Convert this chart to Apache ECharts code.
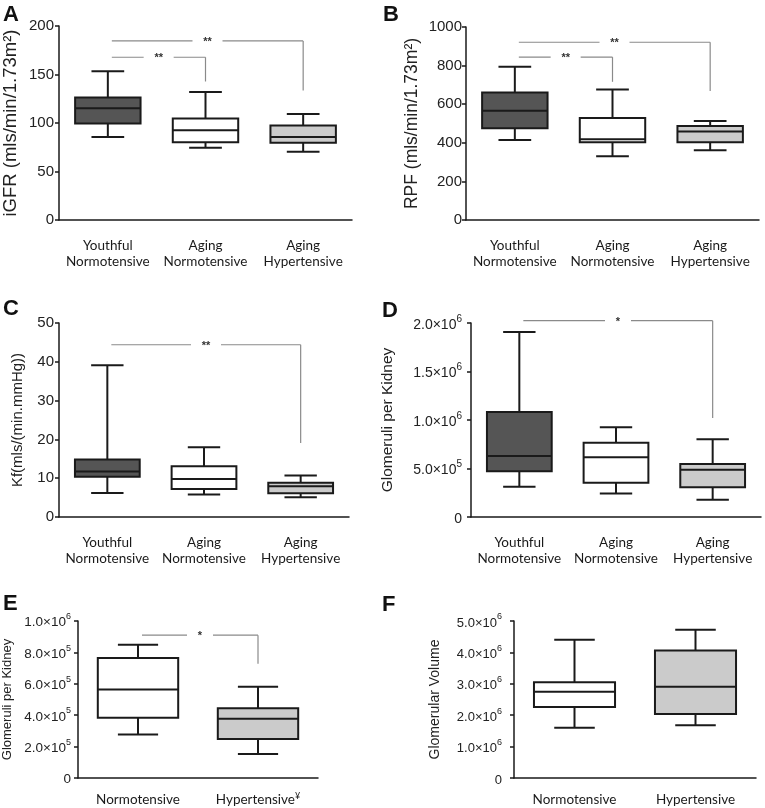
<!DOCTYPE html>
<html>
<head>
<meta charset="utf-8">
<script src="https://cdn.jsdelivr.net/npm/echarts@6/dist/echarts.min.js"></script>
<style>html,body{margin:0;padding:0;background:#fff;}#c{width:765px;height:808px;}</style>
</head>
<body>
<div id="c"></div>
<script>
// ---------- data ----------
const catsAging = ['Youthful\nNormotensive', 'Aging\nNormotensive', 'Aging\nHypertensive'];
const catsE = ['Normotensive', 'Hypertensive¥'];
const catsF = ['Normotensive', 'Hypertensive'];

// box stats: [min, q1, median, q3, max]
const iGFR = [[85.6, 99.5, 115.3, 126.2, 153.3], [74.4, 80.1, 92.6, 104.6, 131.9], [70.3, 79.6, 85.6, 97.4, 109.4]];
const RPF = [[415, 475, 566, 661, 794], [330, 403, 419, 529, 676], [362, 403, 458, 487, 513]];
const Kf = [[6.2, 10.4, 11.7, 14.8, 39.1], [5.8, 7.2, 9.8, 13.1, 18.0], [5.1, 6.1, 7.9, 8.8, 10.7]];
const glomD = [[313000, 471000, 629000, 1082000, 1907000], [241000, 354000, 615000, 766000, 924000], [179000, 306000, 488000, 546000, 801000]];
const glomE = [[277000, 384000, 564000, 765000, 849000], [153000, 249000, 377000, 444000, 581000]];
const volF = [[1600000, 2260000, 2750000, 3050000, 4400000], [1680000, 2040000, 2910000, 4060000, 4720000]];

// significance brackets: [fromCat, toCat, level, dropTo]
const brA = [[0, 2, 184.6, 133.6], [0, 1, 167.8, 142.8]];
const brAlab = ['**', '**'];
const brB = [[0, 2, 921, 669], [0, 1, 844, 716]];
const brBlab = ['**', '**'];
const brC = [[0, 2, 44.4, 19.1]];
const brClab = ['**'];
const brD = [[0, 2, 2024000, 1020000]];
const brDlab = ['*'];
const brE = [[0, 1, 910000, 727000]];
const brElab = ['*'];

// tick labels
const ticksA = ['0', '50', '100', '150', '200'];
const ticksB = ['0', '200', '400', '600', '800', '1000'];
const ticksC = ['0', '10', '20', '30', '40', '50'];
const ticksD = ['0', '5.0×10^5', '1.0×10^6', '1.5×10^6', '2.0×10^6'];
const ticksE = ['0', '2.0×10^5', '4.0×10^5', '6.0×10^5', '8.0×10^5', '1.0×10^6'];
const ticksF = ['0', '1.0×10^6', '2.0×10^6', '3.0×10^6', '4.0×10^6', '5.0×10^6'];

// ---------- styling ----------
const DARK = '#555555', WHITE = '#ffffff', LIGHT = '#cbcbcb';
const fillsAging = [DARK, WHITE, LIGHT];
const fillsEF = [WHITE, LIGHT];
const BOX_FRAC = 0.67;
const INK = '#1a1a1a';
const SANS = 'Liberation Sans, Arial, sans-serif';
const CATFONT = 'Lato, sans-serif';

function boxRender(fills) {
  return function (params, api) {
    const c = api.value(0);
    const ys = [1, 2, 3, 4, 5].map(d => api.coord([c, api.value(d)])[1]);
    const cx = api.coord([c, 0])[0];
    const band = api.size([1, 0])[0];
    const bw = band * BOX_FRAC, half = bw / 2, cap = bw / 4;
    const st = { stroke: INK, lineWidth: 2 };
    return {
      type: 'group', children: [
        { type: 'line', shape: { x1: cx, y1: ys[4], x2: cx, y2: ys[3] }, style: st },
        { type: 'line', shape: { x1: cx - cap, y1: ys[4], x2: cx + cap, y2: ys[4] }, style: st },
        { type: 'line', shape: { x1: cx, y1: ys[1], x2: cx, y2: ys[0] }, style: st },
        { type: 'line', shape: { x1: cx - cap, y1: ys[0], x2: cx + cap, y2: ys[0] }, style: st },
        { type: 'rect', shape: { x: cx - half, y: ys[3], width: bw, height: ys[1] - ys[3] }, style: { fill: fills[c], stroke: INK, lineWidth: 2 } },
        { type: 'line', shape: { x1: cx - half, y1: ys[2], x2: cx + half, y2: ys[2] }, style: st }
      ]
    };
  };
}

function bracketRender(labels) {
  return function (params, api) {
    const f = api.value(0), t = api.value(1), lv = api.value(2), dr = api.value(3);
    const p1 = api.coord([f, lv]), p2 = api.coord([t, lv]), p3 = api.coord([t, dr]);
    const x1 = p1[0] + 4, x2 = p2[0], y = p1[1];
    const lab = labels[params.dataIndex];
    const g = lab.length > 1 ? 15 : 13;
    const mid = (x1 + x2) / 2;
    const st = { stroke: '#8a8a8a', lineWidth: 1.2 };
    return {
      type: 'group', children: [
        { type: 'line', shape: { x1: x1, y1: y, x2: mid - g, y2: y }, style: st },
        { type: 'line', shape: { x1: mid + g, y1: y, x2: x2, y2: y }, style: st },
        { type: 'line', shape: { x1: x2, y1: y, x2: x2, y2: p3[1] }, style: st },
        { type: 'text', x: mid, y: y + 1, style: { text: lab, fill: '#333', font: 'bold 11px ' + SANS, align: 'center', verticalAlign: 'middle', textAlign: 'center', textVerticalAlign: 'middle' } }
      ]
    };
  };
}

const grids = [
  { left: 59, top: 26, width: 293, height: 194 },
  { left: 466, top: 27, width: 293, height: 193 },
  { left: 59, top: 323, width: 290, height: 194 },
  { left: 471, top: 323, width: 290, height: 194 },
  { left: 77, top: 621, width: 241, height: 159 },
  { left: 514, top: 621, width: 242, height: 159 }
];

function catFormatter(v) {
  if (v.slice(-1) === '¥') return v.slice(0, -1) + '{s|¥}';
  return v;
}

function xAx(i, cats, fs, margin) {
  return {
    type: 'category', gridIndex: i, data: cats, boundaryGap: true,
    axisLine: { lineStyle: { color: INK, width: 1.5 } },
    axisTick: { alignWithLabel: true, length: 5, lineStyle: { color: INK, width: 1.5 } },
    axisLabel: {
      interval: 0, margin: margin, color: '#1a1a1a', fontFamily: CATFONT, fontSize: fs, lineHeight: 16,
      formatter: catFormatter,
      rich: { s: { fontFamily: CATFONT, fontSize: 9, color: '#1a1a1a', verticalAlign: 'top', lineHeight: 10 } }
    },
    splitLine: { show: false }
  };
}

function supFormatter(ticks) {
  return function (v, idx) {
    const s = ticks[idx];
    if (s === undefined) return '';
    const parts = s.split('^');
    if (parts.length === 1) return '{m|' + parts[0] + '}';
    return '{m|' + parts[0] + '}{s|' + parts[1] + '}';
  };
}

function yAx(i, min, max, interval, ticks, name, nameGap, nameSize, labSize, margin, sup) {
  const labelCfg = {
    color: '#222', fontFamily: SANS, fontSize: labSize, margin: margin,
    formatter: sup ? supFormatter(ticks) : function (v, idx) { return ticks[idx]; }
  };
  if (sup) {
    labelCfg.rich = {
      m: { fontFamily: SANS, fontSize: labSize, color: '#222', lineHeight: labSize + 4, verticalAlign: 'bottom' },
      s: { fontFamily: SANS, fontSize: Math.round(labSize * 0.68), color: '#222', lineHeight: 9, verticalAlign: 'top' }
    };
  }
  return {
    type: 'value', gridIndex: i, min: min, max: max, interval: interval,
    name: name, nameLocation: 'middle', nameGap: nameGap,
    nameTextStyle: { fontFamily: SANS, fontSize: nameSize, color: '#222' },
    axisLine: { show: true, lineStyle: { color: INK, width: 1.5 } },
    axisTick: { show: true, length: 4, lineStyle: { color: INK, width: 1.5 } },
    axisLabel: labelCfg,
    splitLine: { show: false }
  };
}

function boxSeries(i, stats, fills) {
  return {
    type: 'custom', xAxisIndex: i, yAxisIndex: i,
    renderItem: boxRender(fills),
    encode: { x: 0, y: [1, 2, 3, 4, 5] },
    data: stats.map((s, k) => [k].concat(s)),
    silent: true, animation: false
  };
}

function bracketSeries(i, br, labels) {
  return {
    type: 'custom', xAxisIndex: i, yAxisIndex: i,
    renderItem: bracketRender(labels),
    encode: { x: [0, 1], y: [2, 3] },
    data: br, clip: false,
    silent: true, animation: false
  };
}

const letterStyle = { fontFamily: SANS, fontSize: 22, fontWeight: 'bold', color: '#111' };
const option = {
  animation: false,
  backgroundColor: '#fff',
  title: [
    { text: 'A', left: 3, top: 4, padding: 0, textStyle: letterStyle },
    { text: 'B', left: 383, top: 4, padding: 0, textStyle: letterStyle },
    { text: 'C', left: 3, top: 298, padding: 0, textStyle: letterStyle },
    { text: 'D', left: 382, top: 300, padding: 0, textStyle: letterStyle },
    { text: 'E', left: 3, top: 593, padding: 0, textStyle: letterStyle },
    { text: 'F', left: 382, top: 594, padding: 0, textStyle: letterStyle }
  ],
  grid: grids,
  xAxis: [
    xAx(0, catsAging, 13.5, 18), xAx(1, catsAging, 13.5, 18), xAx(2, catsAging, 13.5, 18),
    xAx(3, catsAging, 13.5, 18), xAx(4, catsE, 13.5, 14), xAx(5, catsF, 13.5, 14)
  ],
  yAxis: [
    yAx(0, 0, 200, 50, ticksA, 'iGFR (mls/min/1.73m²)', 39, 18.5, 15, 5, false),
    yAx(1, 0, 1000, 200, ticksB, 'RPF (mls/min/1.73m²)', 45, 17.5, 15, 4, false),
    yAx(2, 0, 50, 10, ticksC, 'Kf(mls/(min.mmHg))', 34, 15, 15, 5, false),
    yAx(3, 0, 2000000, 500000, ticksD, 'Glomeruli per Kidney', 75, 15.5, 14, 9, true),
    yAx(4, 0, 1000000, 200000, ticksE, 'Glomeruli per Kidney', 64, 13, 13.5, 7, true),
    yAx(5, 0, 5000000, 1000000, ticksF, 'Glomerular Volume', 72, 14, 13, 12, true)
  ],
  series: [
    boxSeries(0, iGFR, fillsAging), bracketSeries(0, brA, brAlab),
    boxSeries(1, RPF, fillsAging), bracketSeries(1, brB, brBlab),
    boxSeries(2, Kf, fillsAging), bracketSeries(2, brC, brClab),
    boxSeries(3, glomD, fillsAging), bracketSeries(3, brD, brDlab),
    boxSeries(4, glomE, fillsEF), bracketSeries(4, brE, brElab),
    boxSeries(5, volF, fillsEF)
  ]
};
const chart = echarts.init(document.getElementById('c'), null, { renderer: 'canvas' });
chart.setOption(option);
</script>
</body>
</html>
